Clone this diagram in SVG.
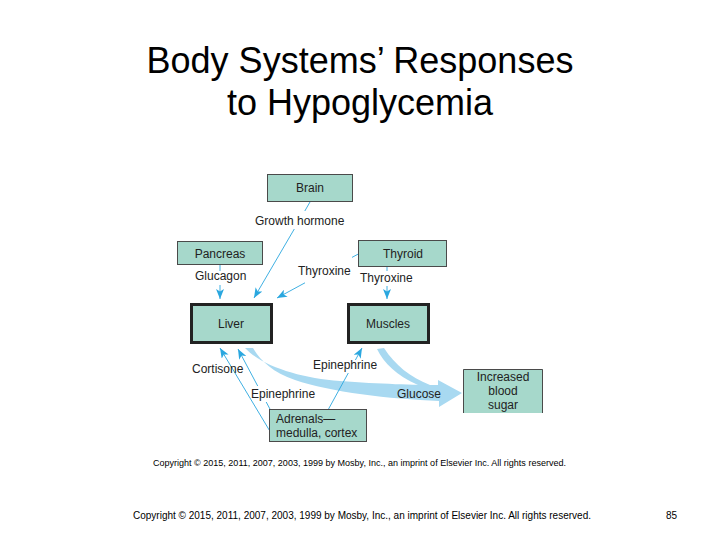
<svg xmlns="http://www.w3.org/2000/svg" width="720" height="540" viewBox="0 0 720 540">
<defs>
<style>
.title{font-family:"Liberation Sans",Arial,sans-serif;font-size:36px;fill:#000;text-anchor:middle}
.lbl{font-family:"Liberation Sans",Arial,sans-serif;font-size:12px;fill:#222}
.ctr{text-anchor:middle}
.box{fill:#a6d8cb;stroke:#4a4a4a;stroke-width:1}
.bold{fill:#a6d8cb;stroke:#222;stroke-width:3}
.ln{stroke:#2aa7df;stroke-width:0.9;fill:none}
.arr{marker-end:url(#ah)}
.band{fill:#a8d9f1}
.copy{font-family:"Liberation Sans",Arial,sans-serif;fill:#000}
</style>
<marker id="ah" viewBox="0 0 10 8" refX="10" refY="4" markerWidth="10" markerHeight="8" markerUnits="userSpaceOnUse" orient="auto">
<path d="M0,0 L10,4 L0,8 L2.5,4 Z" fill="#2aa7df"/>
</marker>
</defs>
<rect width="720" height="540" fill="#fff"/>
<text class="title" x="360" y="73">Body Systems’ Responses</text>
<text class="title" x="360" y="115">to Hypoglycemia</text>

<g id="connectors">
<path class="band" d="M377,349 C384,363 396,375 418,385 L430,385 C410,377 395,365 384,348 Z"/>
<path class="band" d="M245,348 C262,366 300,378 340,381 C380,384 415,385 438,385 L438,380 L462,393 L439,407 L439,401 C390,399 330,392 295,380 C272,372 260,360 253,348 Z"/>
<path class="ln" d="M310,202 L304.8,211"/>
<path class="ln arr" d="M294.3,229 L254,298"/>
<path class="ln" d="M220,265 L220,271"/>
<path class="ln arr" d="M220,285 L220,299"/>
<path class="ln" d="M362,252 L352,257.4"/>
<path class="ln arr" d="M305,282.8 L277,298"/>
<path class="ln" d="M387,267 L387,271"/>
<path class="ln arr" d="M387,286 L387,299"/>
<path class="ln arr" d="M271,433 L220,348"/>
<path class="ln" d="M271,411 L266.2,402"/>
<path class="ln arr" d="M257.7,386 L238,349"/>
<path class="ln" d="M328,410 L348.3,373"/>
<path class="ln arr" d="M355.4,360 L362,348"/>
</g>

<g id="brain"><rect class="box" x="267.5" y="174.5" width="85" height="27"/><text class="lbl ctr" x="310" y="192">Brain</text></g>
<g id="pancreas"><rect class="box" x="177.5" y="241.5" width="85" height="23"/><text class="lbl ctr" x="220" y="258">Pancreas</text></g>
<g id="thyroid"><rect class="box" x="358.5" y="240.5" width="88" height="26"/><text class="lbl ctr" x="403" y="258">Thyroid</text></g>
<g id="liver"><rect class="bold" x="191.5" y="304.5" width="80" height="38"/><text class="lbl ctr" x="231" y="328">Liver</text></g>
<g id="muscles"><rect class="bold" x="348.5" y="304.5" width="80" height="38"/><text class="lbl ctr" x="388" y="328">Muscles</text></g>
<g id="blood-sugar"><rect x="463" y="369" width="80" height="44" fill="#a6d8cb"/><path d="M463.5,413 V369.5 H542.5 V413" fill="none" stroke="#4a4a4a" stroke-width="1"/>
<text class="lbl ctr" x="503" y="381">Increased</text><text class="lbl ctr" x="503" y="395">blood</text><text class="lbl ctr" x="503" y="409">sugar</text></g>
<g id="adrenals"><rect class="box" x="269.5" y="409.5" width="97" height="32"/><text class="lbl" x="276" y="423">Adrenals—</text><text class="lbl" x="276" y="437">medulla, cortex</text></g>

<g id="labels">
<text class="lbl" x="255" y="225">Growth hormone</text>
<text class="lbl" x="195" y="280">Glucagon</text>
<text class="lbl" x="298" y="275">Thyroxine</text>
<text class="lbl" x="360" y="282">Thyroxine</text>
<text class="lbl" x="192" y="373">Cortisone</text>
<text class="lbl" x="313" y="369">Epinephrine</text>
<text class="lbl" x="251" y="398">Epinephrine</text>
<text class="lbl" x="397" y="398">Glucose</text>
</g>

<text class="copy" x="153" y="466" font-size="9" fill="#333" textLength="413" lengthAdjust="spacingAndGlyphs">Copyright © 2015, 2011, 2007, 2003, 1999 by Mosby, Inc., an imprint of Elsevier Inc. All rights reserved.</text>
<text class="copy" x="133" y="519" font-size="10" textLength="458" lengthAdjust="spacingAndGlyphs">Copyright © 2015, 2011, 2007, 2003, 1999 by Mosby, Inc., an imprint of Elsevier Inc. All rights reserved.</text>
<text class="copy" x="666" y="519" font-size="10">85</text>
</svg>
